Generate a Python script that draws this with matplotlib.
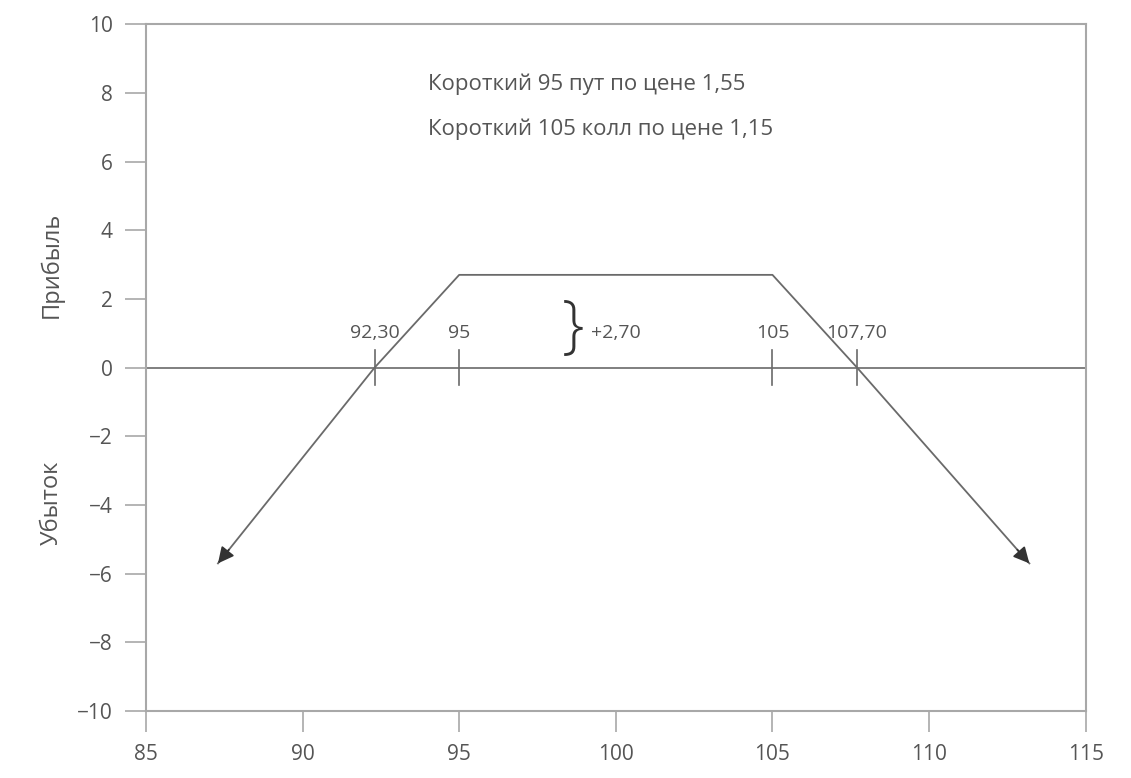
import matplotlib
matplotlib.use("Agg")
import matplotlib.pyplot as plt
from matplotlib.patches import FancyArrowPatch

plt.rcParams['font.family'] = ['Open Sans', 'DejaVu Sans']

# Data
price = [87.3, 92.3, 95.0, 105.0, 107.7, 113.2]
pnl = [-5.7, 0.0, 2.7, 2.7, 0.0, -5.7]
marks = [92.3, 95.0, 105.0, 107.7]
mark_labels = ["92,30", "95", "105", "107,70"]
xticks = [85, 90, 95, 100, 105, 110, 115]
yticks = [-10, -8, -6, -4, -2, 0, 2, 4, 6, 8, 10]
yticklabels = ["\u221210", "\u22128", "\u22126", "\u22124", "\u22122", "0", "2", "4", "6", "8", "10"]
notes = ["Короткий 95 пут по цене 1,55", "Короткий 105 колл по цене 1,15"]
profit_label = "+2,70"

LINE = "#6a6a6a"
AX = "#a8a8a8"
TXT = "#555555"
HEAD = "#333333"

fig = plt.figure(figsize=(11.31, 7.78), dpi=100)
ax = fig.add_axes([0.129, 0.086, 0.831, 0.883])
ax.set_xlim(85, 115)
ax.set_ylim(-10, 10)

for s in ax.spines.values():
    s.set_color(AX)
    s.set_linewidth(1.5)

ax.set_xticks(xticks)
ax.set_xticklabels([str(t) for t in xticks])
ax.set_yticks(yticks)
ax.set_yticklabels(yticklabels)
ax.tick_params(direction='out', length=15, width=1.2, color=AX, labelcolor=TXT, labelsize=15, pad=9)

# zero line
ax.axhline(0, color=LINE, lw=1.2, zorder=1)

# payoff line
ax.plot(price, pnl, color=LINE, lw=1.3, zorder=2)
# dark arrowheads at both ends
for (x0, y0), (x1, y1) in [((price[1], pnl[1]), (price[0], pnl[0])),
                           ((price[4], pnl[4]), (price[5], pnl[5]))]:
    f = 0.93
    xs, ys = x0 + (x1 - x0) * f, y0 + (y1 - y0) * f
    ax.add_patch(FancyArrowPatch((xs, ys), (x1, y1), arrowstyle='-|>', mutation_scale=24,
                                 color=HEAD, lw=1.3, zorder=3, shrinkA=0, shrinkB=0))

# tick marks and labels on zero line
for m, lab in zip(marks, mark_labels):
    ax.plot([m, m], [-0.5, 0.5], color=LINE, lw=1.2, zorder=2)
    ax.text(m, 1.0, lab, ha='center', va='center', color=TXT, fontsize=14)

# brace
ax.text(98.65, 1.1, "}", ha='center', va='center', color=HEAD, fontsize=46,
        fontweight='light')
ax.text(99.2, 1.0, profit_label, ha='left', va='center', color=TXT, fontsize=14)

# notes
ax.text(94.0, 8.25, notes[0], ha='left', va='center', color=TXT, fontsize=16)
ax.text(94.0, 6.95, notes[1], ha='left', va='center', color=TXT, fontsize=16)

# y labels
fig.text(52 / 1131, 1 - 265 / 778, "Прибыль", rotation=90, ha='center', va='center',
         color=TXT, fontsize=17)
fig.text(52 / 1131, 1 - 503 / 778, "Убыток", rotation=90, ha='center', va='center',
         color=TXT, fontsize=17)

fig.savefig("out.png", dpi=100)
